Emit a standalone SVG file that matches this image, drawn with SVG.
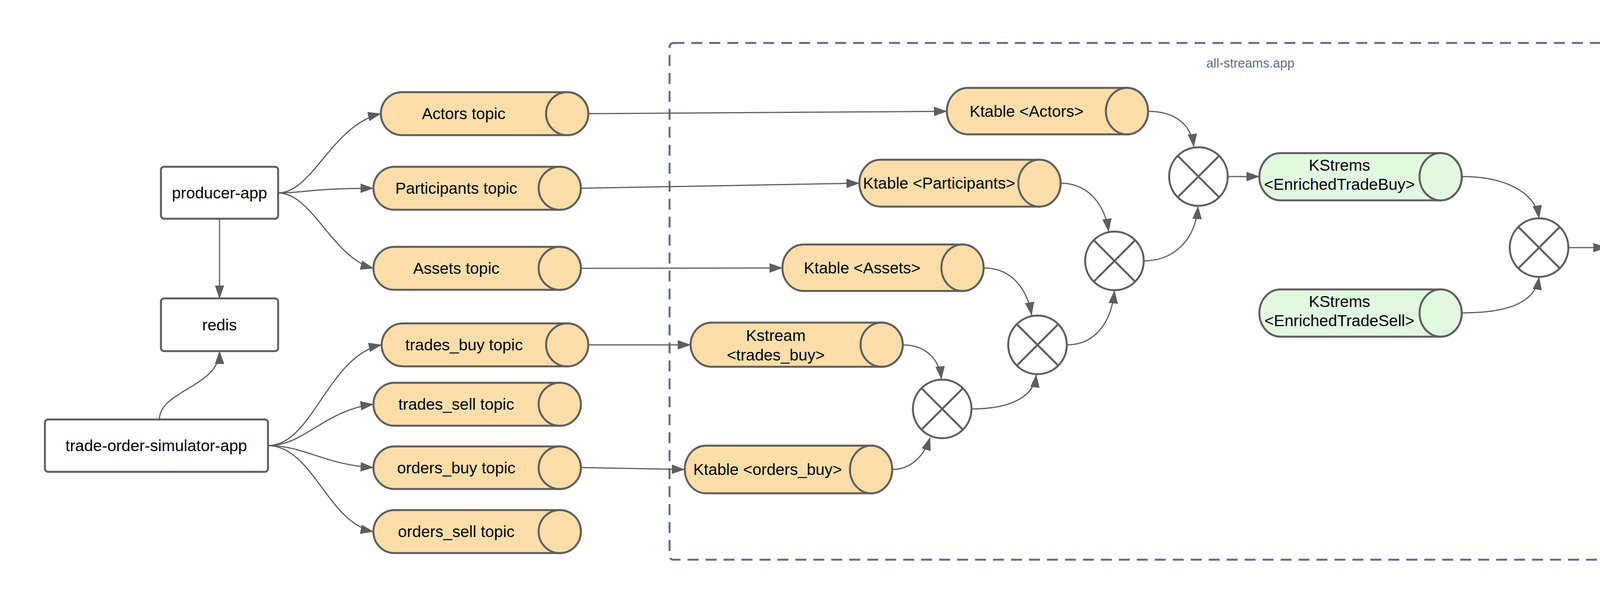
<svg xmlns="http://www.w3.org/2000/svg" width="5518" height="1549" viewBox="0 0 5518 1549">
<style>
text{font-family:"Liberation Sans",Arial,sans-serif;font-size:41px;fill:#000;text-anchor:middle}
.box{fill:#fff;stroke:#5e5e5e;stroke-width:5}
.cyl-o{fill:#fddea8;stroke:#5e5e5e;stroke-width:5}
.cyl-g{fill:#e1f8e1;stroke:#5e5e5e;stroke-width:5}
.join{fill:#fff;stroke:#5e5e5e;stroke-width:5}
.x{stroke:#5e5e5e;stroke-width:5;fill:none}
.conn path{fill:none;stroke:#5e5e5e;stroke-width:3;marker-end:url(#arr)}
.frame{fill:none;stroke:#5e6d8a;stroke-width:5;stroke-dasharray:28 18}
.lbl{fill:#5e6d8a;font-size:33px}
</style>
<defs>
<marker id="arr" markerUnits="userSpaceOnUse" markerWidth="34" markerHeight="24" refX="33" refY="12" orient="auto">
<path d="M0,0 L34,12 L0,24 Z" fill="#5e5e5e"/>
</marker>
</defs>
<rect width="5518" height="1549" fill="#fff"/>
<g id="all-streams-app">
<rect class="frame" x="1714" y="110" width="2973" height="1323" rx="10"/>
<text class="lbl" x="3201" y="173">all-streams.app</text>
</g>

<g class="conn" id="connectors">
<path d="M712 494 C800 494 850 320 975 291"/>
<path d="M712 494 C780 494 800 482 956 482"/>
<path d="M712 494 C800 494 850 660 956 687"/>
<path d="M562 560 L562 764"/>
<path d="M408 1074 C408 1000 562 990 562 899"/>
<path d="M686 1141 C800 1141 840 910 977 883"/>
<path d="M686 1141 C780 1141 830 1050 956 1035"/>
<path d="M686 1141 C780 1141 830 1190 956 1197"/>
<path d="M686 1141 C800 1141 840 1340 956 1361"/>
<path d="M1506 291 L2424 285"/>
<path d="M1487 482 L2200 469"/>
<path d="M1487 687 L2003 686"/>
<path d="M1506 883 L1768 883"/>
<path d="M1487 1197 L1753 1202"/>
<path d="M2939 285 C3010 285 3050 320 3056 376"/>
<path d="M2715 469 C2790 469 2830 530 2838 593"/>
<path d="M2518 686 C2590 686 2630 740 2641 807"/>
<path d="M2311 883 C2370 883 2405 920 2410 971"/>
<path d="M2284 1202 C2330 1202 2365 1170 2381 1120"/>
<path d="M2487 1047 C2560 1047 2645 1030 2653 959"/>
<path d="M2731 883 C2800 883 2845 830 2853 744"/>
<path d="M2928 668 C3000 668 3060 620 3067 528"/>
<path d="M3143 452 L3224 452"/>
<path d="M3742 452 C3850 452 3930 490 3940 559"/>
<path d="M3742 801 C3850 801 3930 780 3940 709"/>
<path d="M4015 634 L4112 634"/>
<path d="M4627 635 L4872 630"/>
</g>

<g id="producer-app"><rect class="box" x="412" y="427" width="300" height="133" rx="8"/><text x="562" y="508">producer-app</text></g>
<g id="redis"><rect class="box" x="412" y="764" width="300" height="135" rx="8"/><text x="562" y="846">redis</text></g>
<g id="trade-order-simulator-app"><rect class="box" x="115" y="1074" width="571" height="134" rx="8"/><text x="400" y="1155">trade-order-simulator-app</text></g>

<g id="actors-topic"><path class="cyl-o" d="M1029 236 L1452 236 A54 55 0 0 1 1452 346 L1029 346 A54 55 0 0 1 1029 236 Z"/><ellipse class="cyl-o" cx="1452" cy="291" rx="54" ry="55"/><text x="1187" y="305">Actors topic</text></g>
<g id="participants-topic"><path class="cyl-o" d="M1010 427 L1433 427 A54 55 0 0 1 1433 537 L1010 537 A54 55 0 0 1 1010 427 Z"/><ellipse class="cyl-o" cx="1433" cy="482" rx="54" ry="55"/><text x="1168" y="496">Participants topic</text></g>
<g id="assets-topic"><path class="cyl-o" d="M1010 632 L1433 632 A54 55 0 0 1 1433 742 L1010 742 A54 55 0 0 1 1010 632 Z"/><ellipse class="cyl-o" cx="1433" cy="687" rx="54" ry="55"/><text x="1168" y="701">Assets topic</text></g>
<g id="trades-buy-topic"><path class="cyl-o" d="M1031 828 L1452 828 A54 55 0 0 1 1452 938 L1031 938 A54 55 0 0 1 1031 828 Z"/><ellipse class="cyl-o" cx="1452" cy="883" rx="54" ry="55"/><text x="1188" y="897">trades_buy topic</text></g>
<g id="trades-sell-topic"><path class="cyl-o" d="M1010 980 L1433 980 A54 55 0 0 1 1433 1090 L1010 1090 A54 55 0 0 1 1010 980 Z"/><ellipse class="cyl-o" cx="1433" cy="1035" rx="54" ry="55"/><text x="1168" y="1049">trades_sell topic</text></g>
<g id="orders-buy-topic"><path class="cyl-o" d="M1010 1143 L1433 1143 A54 54.5 0 0 1 1433 1252 L1010 1252 A54 54.5 0 0 1 1010 1143 Z"/><ellipse class="cyl-o" cx="1433" cy="1197.5" rx="54" ry="54.5"/><text x="1168" y="1212">orders_buy topic</text></g>
<g id="orders-sell-topic"><path class="cyl-o" d="M1010 1306 L1433 1306 A54 55 0 0 1 1433 1416 L1010 1416 A54 55 0 0 1 1010 1306 Z"/><ellipse class="cyl-o" cx="1433" cy="1361" rx="54" ry="55"/><text x="1168" y="1375">orders_sell topic</text></g>

<g id="ktable-actors"><path class="cyl-o" d="M2478 225 L2885 225 A54 59.5 0 0 1 2885 344 L2478 344 A54 59.5 0 0 1 2478 225 Z"/><ellipse class="cyl-o" cx="2885" cy="284.5" rx="54" ry="59.5"/><text x="2628" y="299">Ktable &lt;Actors&gt;</text></g>
<g id="ktable-participants"><path class="cyl-o" d="M2254 409 L2661 409 A54 60 0 0 1 2661 529 L2254 529 A54 60 0 0 1 2254 409 Z"/><ellipse class="cyl-o" cx="2661" cy="469" rx="54" ry="60"/><text x="2404" y="483">Ktable &lt;Participants&gt;</text></g>
<g id="ktable-assets"><path class="cyl-o" d="M2057 626 L2464 626 A54 59.5 0 0 1 2464 745 L2057 745 A54 59.5 0 0 1 2057 626 Z"/><ellipse class="cyl-o" cx="2464" cy="685.5" rx="54" ry="59.5"/><text x="2207" y="700">Ktable &lt;Assets&gt;</text></g>
<g id="kstream-trades-buy"><path class="cyl-o" d="M1822 826 L2257 826 A54 56.5 0 0 1 2257 939 L1822 939 A54 56.5 0 0 1 1822 826 Z"/><ellipse class="cyl-o" cx="2257" cy="882.5" rx="54" ry="56.5"/><text x="1986" y="873">Kstream</text><text x="1986" y="923">&lt;trades_buy&gt;</text></g>
<g id="ktable-orders-buy"><path class="cyl-o" d="M1807 1141 L2230 1141 A54 61 0 0 1 2230 1263 L1807 1263 A54 61 0 0 1 1807 1141 Z"/><ellipse class="cyl-o" cx="2230" cy="1202" rx="54" ry="61"/><text x="1965" y="1216">Ktable &lt;orders_buy&gt;</text></g>

<g id="join-1"><circle class="join" cx="3068" cy="452" r="75"/><path class="x" d="M3015 399 L3121 505 M3121 399 L3015 505"/></g>
<g id="join-2"><circle class="join" cx="2853" cy="668" r="75"/><path class="x" d="M2800 615 L2906 721 M2906 615 L2800 721"/></g>
<g id="join-3"><circle class="join" cx="2656" cy="883" r="75"/><path class="x" d="M2603 830 L2709 936 M2709 830 L2603 936"/></g>
<g id="join-4"><circle class="join" cx="2412" cy="1047" r="75"/><path class="x" d="M2359 994 L2465 1100 M2465 994 L2359 1100"/></g>
<g id="join-5"><circle class="join" cx="3940" cy="634" r="75"/><path class="x" d="M3887 581 L3993 687 M3993 581 L3887 687"/></g>

<g id="kstrems-enrichedtradebuy"><path class="cyl-g" d="M3278 392 L3688 392 A54 60.5 0 0 1 3688 513 L3278 513 A54 60.5 0 0 1 3278 392 Z"/><ellipse class="cyl-g" cx="3688" cy="452.5" rx="54" ry="60.5"/><text x="3429" y="437">KStrems</text><text x="3429" y="486">&lt;EnrichedTradeBuy&gt;</text></g>
<g id="kstrems-enrichedtradesell"><path class="cyl-g" d="M3278 741 L3688 741 A54 60.5 0 0 1 3688 862 L3278 862 A54 60.5 0 0 1 3278 741 Z"/><ellipse class="cyl-g" cx="3688" cy="801.5" rx="54" ry="60.5"/><text x="3429" y="786">KStrems</text><text x="3429" y="835">&lt;EnrichedTradeSell&gt;</text></g>
<g id="kstrems-enrichedtrade"><path class="cyl-g" d="M4166 575 L4573 575 A54 60 0 0 1 4573 695 L4166 695 A54 60 0 0 1 4166 575 Z"/><ellipse class="cyl-g" cx="4573" cy="635" rx="54" ry="60"/><text x="4316" y="625">KStrems</text><text x="4316" y="675">&lt;EnrichedTrade&gt;</text></g>
<g id="enrichedtrade-topic"><path class="cyl-o" d="M4926 575 L5349 575 A54 55 0 0 1 5349 685 L4926 685 A54 55 0 0 1 4926 575 Z"/><ellipse class="cyl-o" cx="5349" cy="630" rx="54" ry="55"/><text x="5084" y="644">EnrichedTrade topic</text></g>
</svg>
